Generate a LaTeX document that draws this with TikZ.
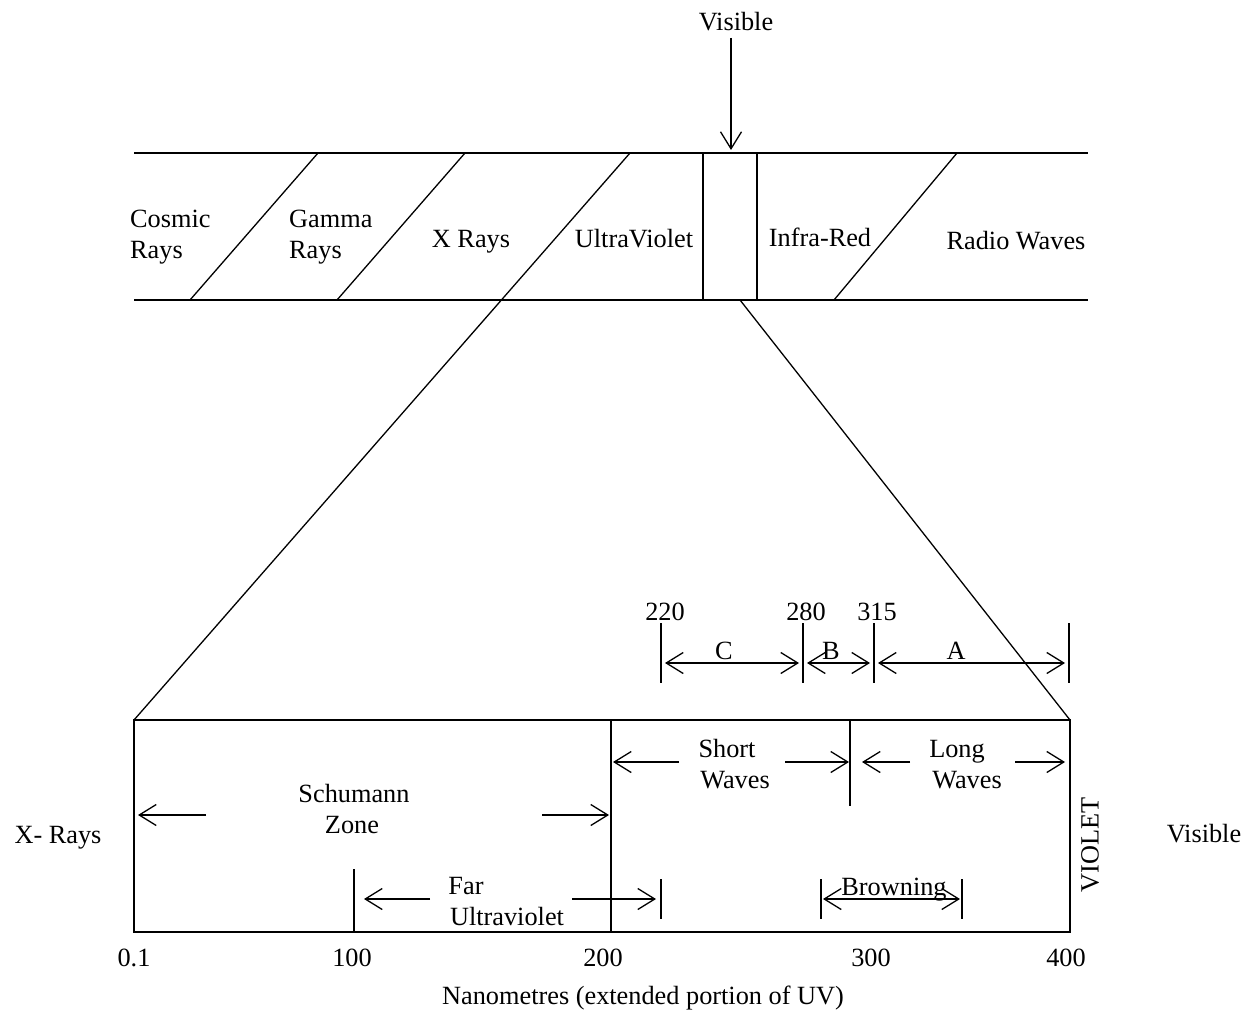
\documentclass[tikz,border=0pt]{standalone}
\usepackage{fontspec}
\setmainfont{Liberation Serif}
\usetikzlibrary{arrows.meta}
\begin{document}
\begin{tikzpicture}[x=1pt,y=-1pt,
  thin line/.style={line width=1.3pt},
  heavy line/.style={line width=2pt},
  tip/.tip={Straight Barb[length=17pt,width=21pt,line width=1.3pt]},
  arr/.style={line width=1.3pt,-tip},
  darr/.style={line width=1.3pt,tip-tip},
  lbl/.style={inner sep=0pt,anchor=base,font=\fontsize{26.3}{30}\selectfont},
  lblw/.style={lbl,anchor=base west}]
\useasboundingbox (0,0) rectangle (1249,1019);

% ---------- spectrum band ----------
\draw[heavy line] (134,153) -- (1088,153);
\draw[heavy line] (134,300) -- (1088,300);
\draw[thin line] (190,300) -- (318,153);
\draw[thin line] (337,300) -- (465,153);
\draw[thin line] (630,153) -- (134,720);
\draw[thin line] (703,153) -- (703,300);
\draw[thin line] (757,153) -- (757,300);
\draw[thin line] (834,300) -- (957,153);
\draw[thin line] (740,300) -- (1070,720);

\node[lbl] (vistop) at (736,31) {Visible};
\coordinate (visarrend) at (731,150);
\draw[arr] (731,38) -- (visarrend);

\node[lblw] (cosmic) at (130,227) {Cosmic};
\node[lblw] (cosmicrays) at (130,258) {Rays};
\node[lblw] (gamma) at (289,227) {Gamma};
\node[lblw] (gammarays) at (289,258) {Rays};
\node[lbl] (xrays) at (471,247) {X Rays};
\node[lbl] (uv) at (634,247) {UltraViolet};
\node[lbl] (ir) at (820,246) {Infra-Red};
\node[lbl] (radio) at (1016,249) {Radio Waves};

% ---------- UV box ----------
\draw[heavy line] (134,720) rectangle (1070,932);
\draw[heavy line] (611,720) -- (611,932);
\draw[thin line] (850,720) -- (850,806);
\draw[thin line] (354,869) -- (354,932);
\draw[thin line] (661,879) -- (661,919);
\draw[thin line] (821,879) -- (821,919);
\draw[thin line] (962,879) -- (962,919);

% top ticks
\draw[thin line] (661,623) -- (661,683);
\draw[thin line] (803,623) -- (803,683);
\draw[thin line] (874,623) -- (874,683);
\draw[thin line] (1069,623) -- (1069,683);

\draw[darr] (665,663) -- (799,663);
\draw[darr] (807,663) -- (870,663);
\draw[darr] (878,663) -- (1065,663);

\node[lbl] (n220) at (665,620) {220};
\node[lbl] (n280) at (806,620) {280};
\node[lbl] (n315) at (877,620) {315};
\node[lbl] (lc) at (724,659) {C};
\node[lbl] (lb) at (831,659) {B};
\node[lbl] (la) at (956,659) {A};

% short / long waves
\draw[arr] (679,762) -- (613,762);
\draw[arr] (785,762) -- (849,762);
\draw[arr] (910,762) -- (862,762);
\draw[arr] (1015,762) -- (1065,762);
\node[lbl] (short) at (727,757) {Short};
\node[lbl] (shortwaves) at (735,788) {Waves};
\node[lbl] (long) at (957,757) {Long};
\node[lbl] (longwaves) at (967,788) {Waves};

% Schumann
\draw[arr] (206,815) -- (138,815);
\draw[arr] (542,815) -- (609,815);
\node[lbl] (schumann) at (354,802) {Schumann};
\node[lbl] (zone) at (352,833) {Zone};

% Far UV
\draw[arr] (430,899) -- (364,899);
\draw[arr] (572,899) -- (656,899);
\node[lbl] (far) at (466,894) {Far};
\node[lbl] (farultra) at (507,925) {Ultraviolet};

% Browning
\draw[darr] (823,899) -- (960,899);
\node[lbl] (browning) at (894,895) {Browning};

% side labels
\node[lbl] (xminus) at (58,843) {X- Rays};
\node[lbl] (visright) at (1204,842) {Visible};
\node[inner sep=0pt,font=\fontsize{26.3}{30}\selectfont,rotate=90] (violet) at (1090,845) {VIOLET};

% axis
\node[lbl] (a01) at (134,966) {0.1};
\node[lbl] (a100) at (352,966) {100};
\node[lbl] (a200) at (603,966) {200};
\node[lbl] (a300) at (871,966) {300};
\node[lbl] (a400) at (1066,966) {400};
\node[lbl] (axis) at (643,1004) {Nanometres (extended portion of UV)};
\end{tikzpicture}
\end{document}
